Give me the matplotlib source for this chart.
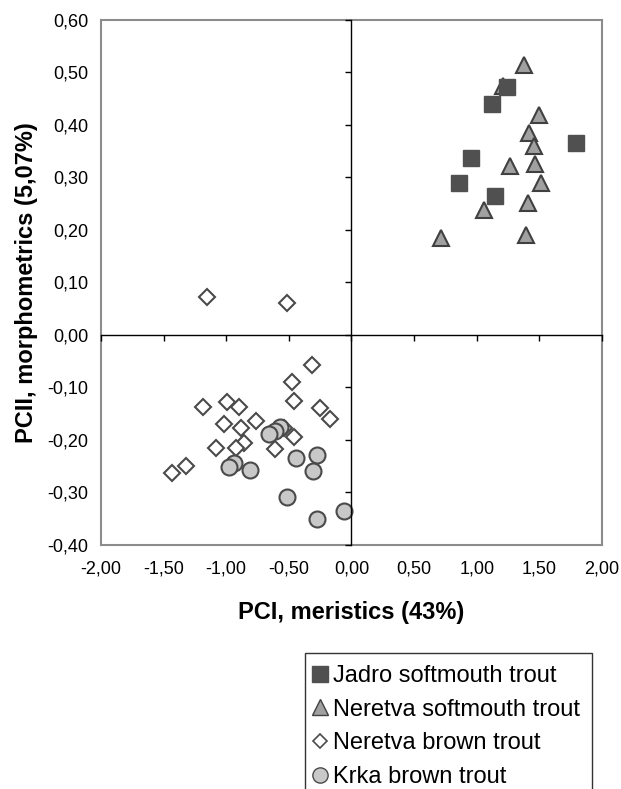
import matplotlib
matplotlib.use("Agg")
import matplotlib.pyplot as plt
from matplotlib.ticker import FuncFormatter, MultipleLocator
from matplotlib.lines import Line2D

plt.rcParams["font.family"] = ["Liberation Sans", "DejaVu Sans"]

# PCA scores
jadro_x = [1.243, 1.118, 1.796, 0.955, 0.860, 1.144]
jadro_y = [0.472, 0.440, 0.365, 0.337, 0.290, 0.265]

neretva_soft_x = [1.379, 1.208, 1.499, 1.416, 1.458, 1.264, 1.464, 1.517, 1.413, 1.054, 1.395, 0.713]
neretva_soft_y = [0.514, 0.474, 0.419, 0.384, 0.360, 0.322, 0.325, 0.290, 0.252, 0.238, 0.190, 0.184]

neretva_brown_x = [-1.152, -0.513, -0.319, -0.476, -0.460, -1.187, -0.993, -0.902, -0.248,
                   -0.168, -0.761, -1.014, -0.884, -0.535, -0.455, -0.860, -1.083, -0.924,
                   -0.612, -1.325, -1.432]
neretva_brown_y = [0.073, 0.060, -0.058, -0.090, -0.126, -0.137, -0.127, -0.137, -0.140,
                   -0.161, -0.164, -0.170, -0.178, -0.178, -0.195, -0.205, -0.215, -0.215,
                   -0.217, -0.249, -0.263]

krka_x = [-0.572, -0.607, -0.655, -0.439, -0.279, -0.306, -0.940, -0.980, -0.814,
          -0.513, -0.279, -0.061]
krka_y = [-0.175, -0.183, -0.189, -0.235, -0.229, -0.259, -0.243, -0.252, -0.258,
          -0.308, -0.351, -0.335]

labels = ["Jadro softmouth trout", "Neretva softmouth trout",
          "Neretva brown trout", "Krka brown trout"]

fig = plt.figure(figsize=(6.21, 7.89), dpi=100)
pos = [0.1626, 0.3093, 0.8068, 0.6654]
ax = fig.add_axes(pos)

comma = FuncFormatter(lambda v, p: f"{v:.2f}".replace(".", ","))

ax.set_xlim(-2, 2)
ax.set_ylim(-0.4, 0.6)
ax.xaxis.set_major_locator(MultipleLocator(0.5))
ax.yaxis.set_major_locator(MultipleLocator(0.1))
ax.xaxis.set_major_formatter(comma)
ax.yaxis.set_major_formatter(comma)
ax.tick_params(length=0, labelsize=13, pad=9, colors="black")
ax.tick_params(axis="x", pad=11)
for s in ax.spines.values():
    s.set_color("#8c8c8c")
    s.set_linewidth(1.5)

ax.plot(krka_x, krka_y, "o", ms=11.5, mfc="#c8c8c8", mec="#4a4a4a", mew=1.5, zorder=3)
ax.plot(neretva_brown_x, neretva_brown_y, "D", ms=8.3, mfc="white", mec="#4a4a4a", mew=1.5, zorder=2)
ax.plot(neretva_soft_x, neretva_soft_y, "^", ms=12, mfc="#a0a0a0", mec="#404040", mew=1.5, zorder=3)
ax.plot(jadro_x, jadro_y, "s", ms=12, mfc="#505050", mec="#505050", mew=1, zorder=4)

ax.set_xlabel("PCI, meristics (43%)", fontsize=17, fontweight="bold", labelpad=17)
ax.set_ylabel("PCII, morphometrics (5,07%)", fontsize=17, fontweight="bold", labelpad=7)

# overlay with the axes crossing at zero, tick marks only
ax2 = fig.add_axes(pos, facecolor="none")
ax2.set_xlim(-2, 2)
ax2.set_ylim(-0.4, 0.6)
ax2.xaxis.set_major_locator(MultipleLocator(0.5))
ax2.yaxis.set_major_locator(MultipleLocator(0.1))
ax2.spines["left"].set_position(("data", 0))
ax2.spines["bottom"].set_position(("data", 0))
ax2.spines["top"].set_visible(False)
ax2.spines["right"].set_visible(False)
for s in ("left", "bottom"):
    ax2.spines[s].set_color("black")
    ax2.spines[s].set_linewidth(1.0)
ax2.tick_params(direction="out", length=4, width=1, labelleft=False, labelbottom=False)

handles = [
    Line2D([], [], ls="", marker="s", ms=11, mfc="#505050", mec="#505050"),
    Line2D([], [], ls="", marker="^", ms=11, mfc="#a0a0a0", mec="#404040", mew=1),
    Line2D([], [], ls="", marker="D", ms=7.5, mfc="white", mec="#4a4a4a", mew=1.2),
    Line2D([], [], ls="", marker="o", ms=11, mfc="#c8c8c8", mec="#4a4a4a", mew=1),
]
leg = fig.legend(handles, labels, loc="upper left", bbox_to_anchor=(305 / 621, 1 - 653 / 789),
                 fontsize=17, frameon=True, fancybox=False, edgecolor="black",
                 handlelength=0.3, handletextpad=0.4, labelspacing=0.5, borderpad=0.5,
                 borderaxespad=0)
leg.get_frame().set_linewidth(1.0)

fig.savefig("out.png", dpi=100)
